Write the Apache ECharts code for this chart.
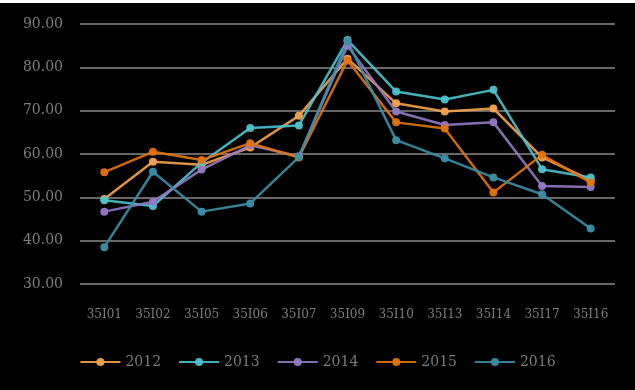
<!DOCTYPE html>
<html>
<head>
<meta charset="utf-8">
<script src="https://cdn.jsdelivr.net/npm/echarts@6/dist/echarts.min.js"></script>
<style>
  html, body { margin: 0; padding: 0; background: #fff; }
  #chart { position: absolute; left: 0; top: 3px; width: 635px; height: 387px; background: #000; }
</style>
</head>
<body>
<div id="chart"></div>
<script>
// 类目与各年份数据
const categories = ["35I01", "35I02", "35I05", "35I06", "35I07", "35I09", "35I10", "35I13", "35I14", "35I17", "35I16"];
const years = ["2012", "2013", "2014", "2015", "2016"];
const data2012 = [49.6, 58.2, 57.5, 61.5, 68.8, 82.0, 71.7, 69.8, 70.5, 59.2, 54.0];
const data2013 = [49.3, 48.0, 58.0, 66.0, 66.6, 86.3, 74.4, 72.6, 74.8, 56.5, 54.6];
const data2014 = [46.7, 49.0, 56.4, 62.0, 59.5, 85.0, 69.8, 66.7, 67.3, 52.6, 52.4];
const data2015 = [55.8, 60.5, 58.6, 62.5, 59.2, 81.6, 67.3, 65.9, 51.1, 59.8, 53.4];
const data2016 = [38.5, 55.9, 46.7, 48.6, 59.3, 86.0, 63.2, 59.0, 54.6, 50.7, 42.8];
const colors = ["#f6a24f", "#4cc3cf", "#9479c4", "#e2740f", "#3b8fa7"];

const seriesData = [data2012, data2013, data2014, data2015, data2016];

const myChart = echarts.init(document.getElementById("chart"));

const option = {
  backgroundColor: "#000",
  color: colors,
  animation: false,
  grid: { left: 80, right: 20, top: 21, bottom: 106 },
  legend: {
    bottom: 16,
    left: "center",
    itemWidth: 40,
    itemHeight: 10,
    itemGap: 17,
    textStyle: { color: "#7c7c7c", fontSize: 14, fontFamily: "DejaVu Serif" },
    data: years,
  },
  xAxis: {
    type: "category",
    data: categories,
    boundaryGap: true,
    axisLine: { show: false },
    axisTick: { show: false },
    axisLabel: {
      color: "#7c7c7c",
      fontSize: 12,
      margin: 25,
      interval: 0,
      fontFamily: "DejaVu Serif",
    },
  },
  yAxis: {
    type: "value",
    min: 30,
    max: 90,
    interval: 10,
    axisLine: { show: false },
    axisTick: { show: false },
    axisLabel: {
      color: "#7c7c7c",
      fontSize: 14,
      margin: 17,
      fontFamily: "DejaVu Serif",
      formatter: (v) => v.toFixed(2),
    },
    splitLine: { lineStyle: { color: "#8a8a8a", width: 1.5 } },
  },
  series: years.map((y, i) => ({
    name: y,
    type: "line",
    data: seriesData[i],
    symbol: "circle",
    symbolSize: 8,
    lineStyle: { width: 2.5, opacity: 0.9 },
    itemStyle: { opacity: 0.95 },
  })),
};

myChart.setOption(option);
</script>
</body>
</html>
